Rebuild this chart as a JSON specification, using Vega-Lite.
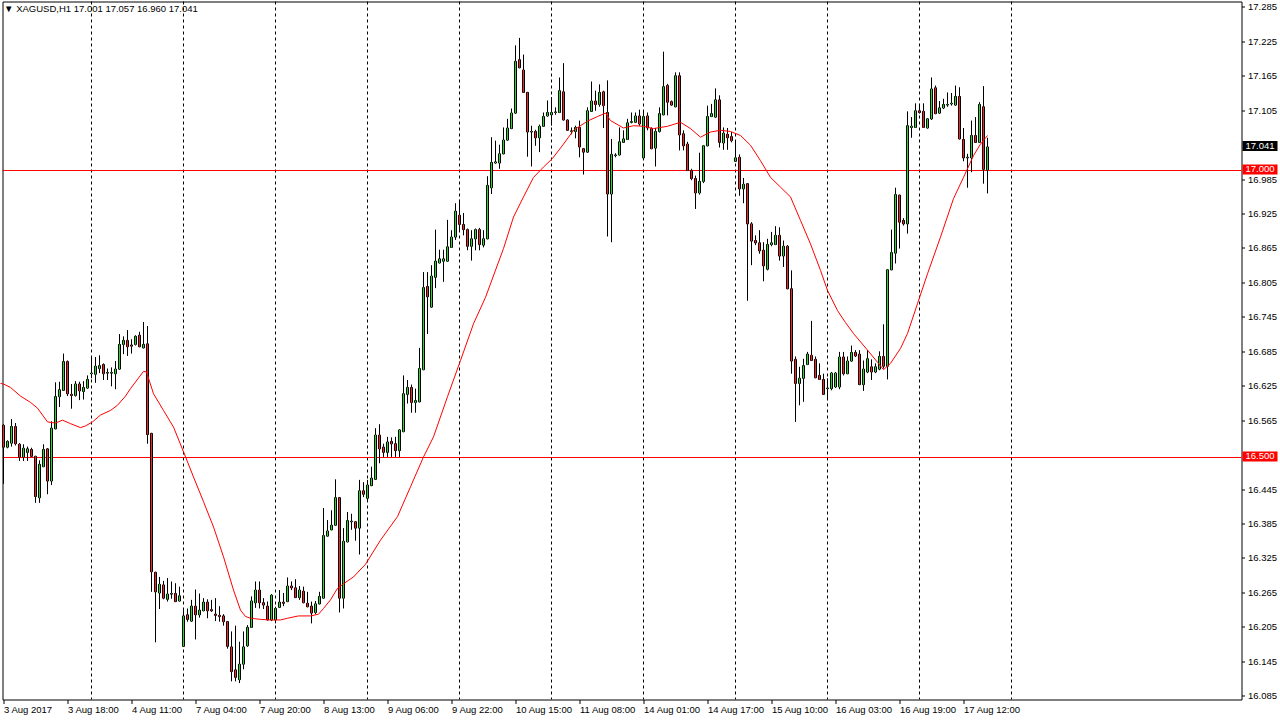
{
"$schema": "https://vega.github.io/schema/vega-lite/v6.json",
"width": 1239, "height": 698,
"autosize": {"type": "none"},
"padding": {"left": 2.5, "top": 1.5, "right": 38.5, "bottom": 20.5},
"background": "white",
"config": {"view": {"stroke": "black", "strokeWidth": 1, "fill": "white"},
  "scale": {"continuousPadding": 0},
  "axis": {"labelFont": "Liberation Sans", "labelFontSize": 9.5, "labelColor": "black", "tickColor": "black", "domain": false, "grid": false, "labelOverlap": false, "labelFlush": false}},
"resolve": {"axis": {"y": "independent"}},
"datasets": {
"bars": [
{"i":0,"o":16.556,"h":16.558,"l":16.454,"c":16.518},{"i":1,"o":16.518,"h":16.530,"l":16.516,"c":16.528},{"i":2,"o":16.525,"h":16.567,"l":16.519,"c":16.554},{"i":3,"o":16.554,"h":16.560,"l":16.521,"c":16.524},{"i":4,"o":16.523,"h":16.525,"l":16.494,"c":16.501},{"i":5,"o":16.501,"h":16.523,"l":16.494,"c":16.516},{"i":6,"o":16.509,"h":16.519,"l":16.494,"c":16.515},{"i":7,"o":16.514,"h":16.517,"l":16.501,"c":16.502},{"i":8,"o":16.502,"h":16.503,"l":16.421,"c":16.432},{"i":9,"o":16.430,"h":16.495,"l":16.421,"c":16.488},
{"i":10,"o":16.484,"h":16.523,"l":16.483,"c":16.514},{"i":11,"o":16.515,"h":16.516,"l":16.436,"c":16.459},{"i":12,"o":16.459,"h":16.563,"l":16.452,"c":16.551},{"i":13,"o":16.550,"h":16.631,"l":16.549,"c":16.606},{"i":14,"o":16.606,"h":16.632,"l":16.588,"c":16.618},{"i":15,"o":16.617,"h":16.681,"l":16.616,"c":16.667},{"i":16,"o":16.667,"h":16.669,"l":16.607,"c":16.611},{"i":17,"o":16.610,"h":16.628,"l":16.585,"c":16.608},{"i":18,"o":16.608,"h":16.633,"l":16.606,"c":16.628},{"i":19,"o":16.628,"h":16.632,"l":16.600,"c":16.616},
{"i":20,"o":16.615,"h":16.633,"l":16.601,"c":16.622},{"i":21,"o":16.621,"h":16.643,"l":16.620,"c":16.636},{"i":22,"o":16.646,"h":16.675,"l":16.638,"c":16.647},{"i":23,"o":16.645,"h":16.675,"l":16.630,"c":16.659},{"i":24,"o":16.655,"h":16.678,"l":16.647,"c":16.660},{"i":25,"o":16.662,"h":16.664,"l":16.635,"c":16.646},{"i":26,"o":16.647,"h":16.655,"l":16.635,"c":16.648},{"i":27,"o":16.647,"h":16.657,"l":16.624,"c":16.648},{"i":28,"o":16.646,"h":16.668,"l":16.619,"c":16.654},{"i":29,"o":16.654,"h":16.715,"l":16.653,"c":16.697},
{"i":30,"o":16.697,"h":16.711,"l":16.680,"c":16.704},{"i":31,"o":16.704,"h":16.722,"l":16.677,"c":16.693},{"i":32,"o":16.696,"h":16.706,"l":16.681,"c":16.694},{"i":33,"o":16.697,"h":16.713,"l":16.695,"c":16.711},{"i":34,"o":16.713,"h":16.719,"l":16.692,"c":16.693},{"i":35,"o":16.691,"h":16.736,"l":16.690,"c":16.697},{"i":36,"o":16.698,"h":16.729,"l":16.524,"c":16.540},{"i":37,"o":16.542,"h":16.543,"l":16.266,"c":16.301},{"i":38,"o":16.300,"h":16.301,"l":16.178,"c":16.266},{"i":39,"o":16.264,"h":16.292,"l":16.236,"c":16.279},
{"i":40,"o":16.278,"h":16.285,"l":16.253,"c":16.255},{"i":41,"o":16.253,"h":16.290,"l":16.249,"c":16.262},{"i":42,"o":16.262,"h":16.284,"l":16.254,"c":16.263},{"i":43,"o":16.263,"h":16.281,"l":16.248,"c":16.249},{"i":44,"o":16.250,"h":16.275,"l":16.249,"c":16.259},{"i":45,"o":16.171,"h":16.234,"l":16.170,"c":16.224},{"i":46,"o":16.226,"h":16.237,"l":16.214,"c":16.218},{"i":47,"o":16.215,"h":16.252,"l":16.214,"c":16.241},{"i":48,"o":16.241,"h":16.270,"l":16.183,"c":16.226},{"i":49,"o":16.226,"h":16.263,"l":16.221,"c":16.234},
{"i":50,"o":16.233,"h":16.255,"l":16.232,"c":16.248},{"i":51,"o":16.248,"h":16.253,"l":16.220,"c":16.233},{"i":52,"o":16.235,"h":16.252,"l":16.231,"c":16.233},{"i":53,"o":16.227,"h":16.255,"l":16.215,"c":16.225},{"i":54,"o":16.225,"h":16.241,"l":16.214,"c":16.223},{"i":55,"o":16.224,"h":16.227,"l":16.207,"c":16.214},{"i":56,"o":16.214,"h":16.215,"l":16.167,"c":16.171},{"i":57,"o":16.170,"h":16.197,"l":16.110,"c":16.127},{"i":58,"o":16.130,"h":16.207,"l":16.110,"c":16.117},{"i":59,"o":16.113,"h":16.179,"l":16.107,"c":16.140},
{"i":60,"o":16.140,"h":16.197,"l":16.131,"c":16.170},{"i":61,"o":16.172,"h":16.208,"l":16.170,"c":16.204},{"i":62,"o":16.204,"h":16.258,"l":16.203,"c":16.250},{"i":63,"o":16.247,"h":16.284,"l":16.238,"c":16.269},{"i":64,"o":16.269,"h":16.284,"l":16.237,"c":16.247},{"i":65,"o":16.247,"h":16.255,"l":16.236,"c":16.243},{"i":66,"o":16.241,"h":16.249,"l":16.216,"c":16.217},{"i":67,"o":16.217,"h":16.262,"l":16.215,"c":16.260},{"i":68,"o":16.217,"h":16.240,"l":16.211,"c":16.237},{"i":69,"o":16.239,"h":16.269,"l":16.238,"c":16.248},
{"i":70,"o":16.248,"h":16.264,"l":16.241,"c":16.246},{"i":71,"o":16.249,"h":16.291,"l":16.248,"c":16.276},{"i":72,"o":16.276,"h":16.284,"l":16.269,"c":16.273},{"i":73,"o":16.273,"h":16.288,"l":16.255,"c":16.256},{"i":74,"o":16.256,"h":16.276,"l":16.252,"c":16.269},{"i":75,"o":16.267,"h":16.275,"l":16.246,"c":16.247},{"i":76,"o":16.246,"h":16.266,"l":16.239,"c":16.240},{"i":77,"o":16.241,"h":16.249,"l":16.211,"c":16.229},{"i":78,"o":16.230,"h":16.250,"l":16.227,"c":16.245},{"i":79,"o":16.245,"h":16.266,"l":16.244,"c":16.258},
{"i":80,"o":16.255,"h":16.412,"l":16.254,"c":16.364},{"i":81,"o":16.363,"h":16.391,"l":16.362,"c":16.372},{"i":82,"o":16.374,"h":16.408,"l":16.373,"c":16.382},{"i":83,"o":16.382,"h":16.462,"l":16.381,"c":16.430},{"i":84,"o":16.430,"h":16.431,"l":16.230,"c":16.255},{"i":85,"o":16.255,"h":16.377,"l":16.237,"c":16.354},{"i":86,"o":16.353,"h":16.405,"l":16.352,"c":16.390},{"i":87,"o":16.388,"h":16.402,"l":16.374,"c":16.389},{"i":88,"o":16.388,"h":16.389,"l":16.355,"c":16.377},{"i":89,"o":16.377,"h":16.461,"l":16.331,"c":16.442},
{"i":90,"o":16.442,"h":16.457,"l":16.431,"c":16.436},{"i":91,"o":16.429,"h":16.461,"l":16.425,"c":16.452},{"i":92,"o":16.451,"h":16.484,"l":16.450,"c":16.464},{"i":93,"o":16.462,"h":16.551,"l":16.461,"c":16.539},{"i":94,"o":16.539,"h":16.558,"l":16.490,"c":16.515},{"i":95,"o":16.518,"h":16.524,"l":16.501,"c":16.509},{"i":96,"o":16.509,"h":16.536,"l":16.501,"c":16.527},{"i":97,"o":16.528,"h":16.535,"l":16.501,"c":16.524},{"i":98,"o":16.524,"h":16.536,"l":16.501,"c":16.512},{"i":99,"o":16.512,"h":16.549,"l":16.501,"c":16.548},
{"i":100,"o":16.545,"h":16.643,"l":16.544,"c":16.611},{"i":101,"o":16.610,"h":16.635,"l":16.594,"c":16.622},{"i":102,"o":16.622,"h":16.627,"l":16.578,"c":16.596},{"i":103,"o":16.596,"h":16.620,"l":16.578,"c":16.599},{"i":104,"o":16.597,"h":16.691,"l":16.596,"c":16.655},{"i":105,"o":16.653,"h":16.823,"l":16.652,"c":16.796},{"i":106,"o":16.798,"h":16.823,"l":16.715,"c":16.780},{"i":107,"o":16.762,"h":16.835,"l":16.761,"c":16.816},{"i":108,"o":16.814,"h":16.897,"l":16.795,"c":16.842},{"i":109,"o":16.839,"h":16.862,"l":16.838,"c":16.846},
{"i":110,"o":16.842,"h":16.862,"l":16.806,"c":16.846},{"i":111,"o":16.842,"h":16.914,"l":16.841,"c":16.867},{"i":112,"o":16.866,"h":16.896,"l":16.865,"c":16.884},{"i":113,"o":16.884,"h":16.943,"l":16.879,"c":16.929},{"i":114,"o":16.922,"h":16.949,"l":16.896,"c":16.906},{"i":115,"o":16.906,"h":16.926,"l":16.887,"c":16.897},{"i":116,"o":16.897,"h":16.899,"l":16.861,"c":16.868},{"i":117,"o":16.868,"h":16.896,"l":16.843,"c":16.881},{"i":118,"o":16.881,"h":16.899,"l":16.861,"c":16.897},{"i":119,"o":16.897,"h":16.900,"l":16.861,"c":16.871},
{"i":120,"o":16.870,"h":16.896,"l":16.866,"c":16.881},{"i":121,"o":16.881,"h":16.990,"l":16.880,"c":16.974},{"i":122,"o":16.970,"h":17.058,"l":16.959,"c":17.014},{"i":123,"o":17.013,"h":17.052,"l":17.012,"c":17.015},{"i":124,"o":17.013,"h":17.045,"l":17.003,"c":17.029},{"i":125,"o":17.029,"h":17.075,"l":17.028,"c":17.053},{"i":126,"o":17.053,"h":17.090,"l":17.052,"c":17.074},{"i":127,"o":17.073,"h":17.108,"l":17.072,"c":17.100},{"i":128,"o":17.100,"h":17.218,"l":17.099,"c":17.190},{"i":129,"o":17.193,"h":17.231,"l":17.178,"c":17.179},
{"i":130,"o":17.175,"h":17.202,"l":17.135,"c":17.136},{"i":131,"o":17.136,"h":17.137,"l":17.024,"c":17.067},{"i":132,"o":17.067,"h":17.078,"l":17.007,"c":17.068},{"i":133,"o":17.068,"h":17.071,"l":17.043,"c":17.057},{"i":134,"o":17.057,"h":17.080,"l":17.032,"c":17.077},{"i":135,"o":17.077,"h":17.101,"l":17.076,"c":17.094},{"i":136,"o":17.095,"h":17.122,"l":17.094,"c":17.101},{"i":137,"o":17.097,"h":17.128,"l":17.078,"c":17.101},{"i":138,"o":17.101,"h":17.110,"l":17.097,"c":17.102},{"i":139,"o":17.101,"h":17.162,"l":17.100,"c":17.139},
{"i":140,"o":17.137,"h":17.187,"l":17.087,"c":17.088},{"i":141,"o":17.088,"h":17.089,"l":17.069,"c":17.070},{"i":142,"o":17.068,"h":17.075,"l":17.063,"c":17.069},{"i":143,"o":17.068,"h":17.078,"l":17.056,"c":17.075},{"i":144,"o":17.075,"h":17.087,"l":17.023,"c":17.041},{"i":145,"o":17.038,"h":17.039,"l":16.993,"c":17.032},{"i":146,"o":17.032,"h":17.110,"l":17.031,"c":17.104},{"i":147,"o":17.103,"h":17.155,"l":17.102,"c":17.121},{"i":148,"o":17.121,"h":17.139,"l":17.104,"c":17.115},{"i":149,"o":17.115,"h":17.150,"l":17.111,"c":17.136},
{"i":150,"o":17.137,"h":17.139,"l":17.074,"c":17.113},{"i":151,"o":17.101,"h":17.157,"l":16.885,"c":16.959},{"i":152,"o":16.959,"h":17.055,"l":16.875,"c":17.028},{"i":153,"o":17.026,"h":17.030,"l":17.023,"c":17.027},{"i":154,"o":17.027,"h":17.075,"l":17.026,"c":17.050},{"i":155,"o":17.049,"h":17.070,"l":17.048,"c":17.055},{"i":156,"o":17.054,"h":17.090,"l":17.053,"c":17.083},{"i":157,"o":17.084,"h":17.101,"l":17.082,"c":17.085},{"i":158,"o":17.084,"h":17.101,"l":17.083,"c":17.095},{"i":159,"o":17.095,"h":17.106,"l":17.078,"c":17.081},
{"i":160,"o":17.022,"h":17.103,"l":17.021,"c":17.094},{"i":161,"o":17.095,"h":17.101,"l":17.070,"c":17.074},{"i":162,"o":17.073,"h":17.075,"l":17.037,"c":17.038},{"i":163,"o":17.039,"h":17.074,"l":17.007,"c":17.068},{"i":164,"o":17.068,"h":17.110,"l":17.066,"c":17.099},{"i":165,"o":17.097,"h":17.207,"l":17.096,"c":17.146},{"i":166,"o":17.148,"h":17.151,"l":17.096,"c":17.119},{"i":167,"o":17.120,"h":17.122,"l":17.113,"c":17.114},{"i":168,"o":17.111,"h":17.171,"l":17.110,"c":17.165},{"i":169,"o":17.165,"h":17.171,"l":17.035,"c":17.062},
{"i":170,"o":17.064,"h":17.070,"l":17.035,"c":17.043},{"i":171,"o":17.046,"h":17.050,"l":16.999,"c":17.000},{"i":172,"o":17.000,"h":17.003,"l":16.983,"c":16.986},{"i":173,"o":16.986,"h":16.991,"l":16.933,"c":16.961},{"i":174,"o":16.961,"h":17.031,"l":16.958,"c":16.981},{"i":175,"o":16.981,"h":17.044,"l":16.978,"c":17.043},{"i":176,"o":17.043,"h":17.113,"l":17.042,"c":17.094},{"i":177,"o":17.094,"h":17.116,"l":17.093,"c":17.099},{"i":178,"o":17.093,"h":17.143,"l":17.092,"c":17.123},{"i":179,"o":17.123,"h":17.131,"l":17.040,"c":17.049},
{"i":180,"o":17.048,"h":17.075,"l":17.036,"c":17.065},{"i":181,"o":17.063,"h":17.074,"l":17.036,"c":17.057},{"i":182,"o":17.059,"h":17.067,"l":17.049,"c":17.052},{"i":183,"o":17.016,"h":17.053,"l":17.015,"c":17.022},{"i":184,"o":17.023,"h":17.028,"l":16.956,"c":16.968},{"i":185,"o":16.968,"h":16.987,"l":16.943,"c":16.976},{"i":186,"o":16.977,"h":16.978,"l":16.773,"c":16.907},{"i":187,"o":16.907,"h":16.910,"l":16.835,"c":16.877},{"i":188,"o":16.878,"h":16.887,"l":16.870,"c":16.874},{"i":189,"o":16.874,"h":16.896,"l":16.855,"c":16.860},
{"i":190,"o":16.861,"h":16.875,"l":16.807,"c":16.834},{"i":191,"o":16.828,"h":16.881,"l":16.826,"c":16.871},{"i":192,"o":16.871,"h":16.893,"l":16.868,"c":16.874},{"i":193,"o":16.871,"h":16.903,"l":16.870,"c":16.887},{"i":194,"o":16.887,"h":16.901,"l":16.843,"c":16.851},{"i":195,"o":16.851,"h":16.878,"l":16.832,"c":16.868},{"i":196,"o":16.868,"h":16.870,"l":16.793,"c":16.794},{"i":197,"o":16.794,"h":16.826,"l":16.646,"c":16.668},{"i":198,"o":16.671,"h":16.676,"l":16.562,"c":16.629},{"i":199,"o":16.629,"h":16.658,"l":16.591,"c":16.638},
{"i":200,"o":16.638,"h":16.672,"l":16.597,"c":16.660},{"i":201,"o":16.662,"h":16.684,"l":16.661,"c":16.680},{"i":202,"o":16.678,"h":16.738,"l":16.668,"c":16.669},{"i":203,"o":16.671,"h":16.676,"l":16.638,"c":16.639},{"i":204,"o":16.643,"h":16.664,"l":16.635,"c":16.636},{"i":205,"o":16.636,"h":16.646,"l":16.609,"c":16.610},{"i":206,"o":16.620,"h":16.638,"l":16.600,"c":16.621},{"i":207,"o":16.620,"h":16.649,"l":16.617,"c":16.647},{"i":208,"o":16.623,"h":16.649,"l":16.621,"c":16.647},{"i":209,"o":16.623,"h":16.684,"l":16.619,"c":16.675},
{"i":210,"o":16.675,"h":16.684,"l":16.643,"c":16.646},{"i":211,"o":16.646,"h":16.676,"l":16.645,"c":16.668},{"i":212,"o":16.668,"h":16.695,"l":16.667,"c":16.683},{"i":213,"o":16.683,"h":16.687,"l":16.675,"c":16.677},{"i":214,"o":16.680,"h":16.687,"l":16.626,"c":16.627},{"i":215,"o":16.627,"h":16.669,"l":16.616,"c":16.654},{"i":216,"o":16.649,"h":16.687,"l":16.647,"c":16.672},{"i":217,"o":16.658,"h":16.671,"l":16.635,"c":16.649},{"i":218,"o":16.649,"h":16.664,"l":16.647,"c":16.658},{"i":219,"o":16.654,"h":16.685,"l":16.652,"c":16.676},
{"i":220,"o":16.676,"h":16.732,"l":16.655,"c":16.659},{"i":221,"o":16.659,"h":16.828,"l":16.636,"c":16.827},{"i":222,"o":16.827,"h":16.897,"l":16.826,"c":16.857},{"i":223,"o":16.856,"h":16.970,"l":16.838,"c":16.958},{"i":224,"o":16.957,"h":16.958,"l":16.864,"c":16.910},{"i":225,"o":16.913,"h":16.917,"l":16.904,"c":16.907},{"i":226,"o":16.907,"h":17.103,"l":16.890,"c":17.078},{"i":227,"o":17.075,"h":17.093,"l":17.057,"c":17.077},{"i":228,"o":17.075,"h":17.117,"l":17.074,"c":17.104},{"i":229,"o":17.104,"h":17.116,"l":17.099,"c":17.101},
{"i":230,"o":17.103,"h":17.117,"l":17.074,"c":17.075},{"i":231,"o":17.074,"h":17.091,"l":17.073,"c":17.090},{"i":232,"o":17.090,"h":17.162,"l":17.088,"c":17.142},{"i":233,"o":17.144,"h":17.148,"l":17.098,"c":17.099},{"i":234,"o":17.100,"h":17.121,"l":17.099,"c":17.109},{"i":235,"o":17.109,"h":17.125,"l":17.107,"c":17.115},{"i":236,"o":17.114,"h":17.136,"l":17.111,"c":17.115},{"i":237,"o":17.116,"h":17.135,"l":17.113,"c":17.117},{"i":238,"o":17.114,"h":17.148,"l":17.113,"c":17.129},{"i":239,"o":17.129,"h":17.145,"l":17.054,"c":17.055},
{"i":240,"o":17.054,"h":17.074,"l":17.016,"c":17.022},{"i":241,"o":17.022,"h":17.029,"l":16.970,"c":17.023},{"i":242,"o":17.022,"h":17.087,"l":16.997,"c":17.061},{"i":243,"o":17.061,"h":17.093,"l":17.048,"c":17.049},{"i":244,"o":17.049,"h":17.119,"l":17.048,"c":17.115},{"i":245,"o":17.111,"h":17.147,"l":16.977,"c":17.002},{"i":246,"o":17.001,"h":17.057,"l":16.960,"c":17.041}
],
"ma": [
{"i":-0.75,"v":16.629},{"i":0,"v":16.628},{"i":1.75,"v":16.622},{"i":4.25,"v":16.607},{"i":6.75,"v":16.596},{"i":8.5,"v":16.586},{"i":11,"v":16.562},{"i":13,"v":16.560},{"i":14.75,"v":16.565},{"i":16.75,"v":16.559},{"i":19.25,"v":16.552},{"i":20.5,"v":16.555},{"i":22.25,"v":16.562},{"i":24.25,"v":16.574},{"i":26.75,"v":16.582},{"i":28.5,"v":16.591},{"i":30.5,"v":16.607},{"i":31.75,"v":16.620},{"i":35,"v":16.650},{"i":35.75,"v":16.649},{"i":37.5,"v":16.611},{"i":40,"v":16.582},{"i":42.5,"v":16.553},{"i":45,"v":16.510},{"i":47.5,"v":16.466},{"i":50,"v":16.423},{"i":52.5,"v":16.379},{"i":55,"v":16.327},{"i":57.5,"v":16.269},{"i":59.25,"v":16.234},{"i":60.5,"v":16.223},{"i":61.75,"v":16.220},{"i":64.25,"v":16.218},{"i":66.75,"v":16.217},{"i":69.25,"v":16.217},{"i":71,"v":16.220},{"i":73.75,"v":16.224},{"i":76.75,"v":16.224},{"i":78.75,"v":16.227},{"i":80,"v":16.237},{"i":81.75,"v":16.252},{"i":83.5,"v":16.272},{"i":85,"v":16.280},{"i":87.5,"v":16.292},{"i":90.5,"v":16.314},{"i":94.25,"v":16.356},{"i":98.5,"v":16.397},{"i":101.75,"v":16.449},{"i":105,"v":16.501},{"i":107.5,"v":16.536},{"i":111,"v":16.606},{"i":114.25,"v":16.669},{"i":117.5,"v":16.733},{"i":120.5,"v":16.779},{"i":125,"v":16.864},{"i":127.5,"v":16.919},{"i":130,"v":16.954},{"i":132.5,"v":16.988},{"i":135,"v":17.006},{"i":137.25,"v":17.021},{"i":140,"v":17.046},{"i":142.5,"v":17.070},{"i":146,"v":17.086},{"i":148.5,"v":17.094},{"i":150.5,"v":17.100},{"i":151.75,"v":17.087},{"i":155,"v":17.074},{"i":157.5,"v":17.078},{"i":160,"v":17.077},{"i":162.5,"v":17.073},{"i":166,"v":17.077},{"i":169.25,"v":17.084},{"i":171.75,"v":17.073},{"i":174.25,"v":17.058},{"i":176.75,"v":17.067},{"i":179.25,"v":17.070},{"i":181.75,"v":17.068},{"i":184.25,"v":17.061},{"i":186.75,"v":17.044},{"i":189.25,"v":17.017},{"i":191.75,"v":16.988},{"i":194.25,"v":16.971},{"i":196.75,"v":16.954},{"i":199.25,"v":16.913},{"i":201.75,"v":16.872},{"i":204.25,"v":16.826},{"i":206,"v":16.791},{"i":208.5,"v":16.756},{"i":210.5,"v":16.735},{"i":212.5,"v":16.716},{"i":216,"v":16.687},{"i":218.5,"v":16.666},{"i":220,"v":16.653},{"i":221.75,"v":16.664},{"i":224.25,"v":16.690},{"i":226,"v":16.716},{"i":228.5,"v":16.768},{"i":231,"v":16.820},{"i":234.25,"v":16.884},{"i":237.5,"v":16.951},{"i":240,"v":16.988},{"i":242.5,"v":17.026},{"i":244.25,"v":17.046},{"i":246,"v":17.061}
],
"seps": [{"i":22},{"i":45},{"i":68},{"i":91},{"i":114},{"i":137},{"i":160},{"i":183},{"i":206},{"i":229},{"i":252}],
"levels": [{"price":17.0},{"price":16.5}],
"boxes": [{"price":17.041,"label":"17.041","kind":"last"},{"price":17.0,"label":"17.000","kind":"level"},{"price":16.5,"label":"16.500","kind":"level"}],
"head": [{"t":"▼ XAGUSD,H1  17.001 17.057 16.960 17.041"}]
},
"layer": [
{"data": {"name": "seps"}, "mark": {"type": "rule", "color": "black", "strokeWidth": 1, "strokeDash": [3, 3]},
 "encoding": {"x": {"field": "i", "type": "quantitative", "title": null, "scale": {"domain": [-0.25, 309.5], "nice": false, "zero": false, "padding": 0},
   "axis": {"values": [0,16,32,48,64,80,96,112,128,144,160,176,192,208,224,240], "labelExpr": "['3 Aug 2017','3 Aug 18:00','4 Aug 11:00','7 Aug 04:00','7 Aug 20:00','8 Aug 13:00','9 Aug 06:00','9 Aug 22:00','10 Aug 15:00','11 Aug 08:00','14 Aug 01:00','14 Aug 17:00','15 Aug 10:00','16 Aug 03:00','16 Aug 19:00','17 Aug 12:00'][round(datum.value/16)]", "labelAlign": "left", "labelBaseline": "top", "tickSize": 4, "labelPadding": 1, "labelOffset": 0, "labelOverlap": false, "labelFlush": false}}}},
{"data": {"name": "levels"}, "mark": {"type": "rule", "color": "#ff0000", "strokeWidth": 1},
 "encoding": {"y": {"field": "price", "type": "quantitative", "title": null, "scale": {"domain": [16.0784, 17.2944], "nice": false, "zero": false, "padding": 0},
   "axis": {"orient": "right", "values": [16.085,16.145,16.205,16.265,16.325,16.385,16.445,16.565,16.625,16.685,16.745,16.805,16.865,16.925,16.985,17.105,17.165,17.225,17.285], "format": ".3f", "tickSize": 3, "labelPadding": 3, "labelBaseline": "middle", "labelOverlap": false, "labelFlush": false, "labelBound": false}}}},
{"data": {"name": "bars"}, "mark": {"type": "rule", "color": "black", "strokeWidth": 1},
 "encoding": {"x": {"field": "i", "type": "quantitative", "title": null},
   "y": {"field": "l", "type": "quantitative", "title": null, "axis": null},
   "y2": {"field": "h"}}},
{"data": {"name": "bars"}, "mark": {"type": "bar", "width": 2, "fill": "black", "stroke": "black", "strokeWidth": 1, "opacity": 1},
 "encoding": {"x": {"field": "i", "type": "quantitative", "title": null},
   "y": {"field": "o", "type": "quantitative", "title": null, "axis": null},
   "y2": {"field": "c"}}},
{"data": {"name": "bars"}, "mark": {"type": "bar", "width": 1, "strokeWidth": 0, "opacity": 1},
 "encoding": {"x": {"field": "i", "type": "quantitative", "title": null},
   "y": {"field": "o", "type": "quantitative", "title": null, "axis": null},
   "y2": {"field": "c"},
   "fill": {"condition": {"test": "datum.c >= datum.o", "value": "#22dd22"}, "value": "#ff2020"}}},
{"data": {"name": "ma"}, "mark": {"type": "line", "color": "#ff0000", "strokeWidth": 1},
 "encoding": {"x": {"field": "i", "type": "quantitative", "title": null},
   "y": {"field": "v", "type": "quantitative", "title": null, "axis": null}}},
{"data": {"name": "boxes"}, "mark": {"type": "tick", "orient": "horizontal", "thickness": 10, "size": 35, "opacity": 1, "yOffset": -1},
 "encoding": {"x": {"datum": 314.125, "type": "quantitative"},
   "y": {"field": "price", "type": "quantitative", "title": null, "axis": null},
   "color": {"condition": {"test": "datum.kind == 'last'", "value": "black"}, "value": "#ff0000"}}},
{"data": {"name": "boxes"}, "mark": {"type": "text", "color": "white", "font": "Liberation Sans", "fontSize": 9.5, "align": "center", "baseline": "middle", "yOffset": -1},
 "encoding": {"x": {"datum": 314.125, "type": "quantitative"},
   "y": {"field": "price", "type": "quantitative", "title": null, "axis": null},
   "text": {"field": "label"}}},
{"data": {"name": "head"}, "mark": {"type": "text", "color": "black", "font": "Liberation Sans", "fontSize": 9.5, "align": "left", "baseline": "middle"},
 "encoding": {"x": {"datum": 0.15, "type": "quantitative"},
   "y": {"datum": 17.2815, "type": "quantitative", "axis": null},
   "text": {"field": "t"}}}
]
}
